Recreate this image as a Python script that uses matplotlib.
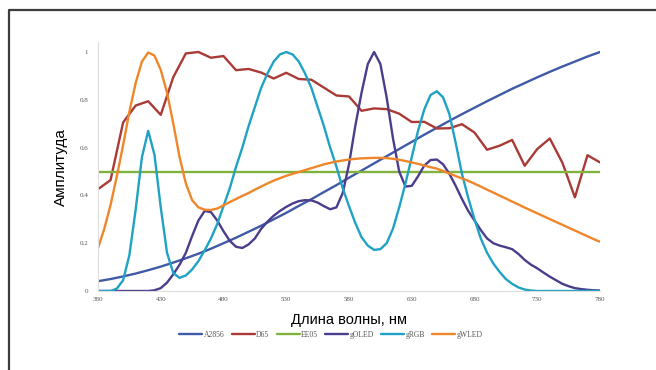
import numpy as np
import matplotlib
matplotlib.use('Agg')
import matplotlib.pyplot as plt
from matplotlib.lines import Line2D

# wavelength grids
wl10 = np.arange(380, 781, 10)
wl5 = np.arange(380, 781, 5)

a2856 = [0.041, 0.050, 0.061, 0.073, 0.087, 0.102, 0.119, 0.137, 0.156, 0.177,
         0.200, 0.223, 0.248, 0.273, 0.300, 0.327, 0.356, 0.384, 0.414, 0.443,
         0.474, 0.504, 0.534, 0.564, 0.594, 0.624, 0.654, 0.683, 0.712, 0.740,
         0.767, 0.794, 0.820, 0.846, 0.870, 0.894, 0.917, 0.939, 0.960, 0.981, 1.0]

d65 = [0.426, 0.464, 0.705, 0.776, 0.794, 0.737, 0.895, 0.994, 1.0, 0.976,
       0.983, 0.924, 0.929, 0.914, 0.889, 0.913, 0.887, 0.884, 0.851, 0.818,
       0.814, 0.754, 0.764, 0.761, 0.742, 0.707, 0.708, 0.680, 0.681, 0.698,
       0.663, 0.591, 0.608, 0.632, 0.524, 0.594, 0.638, 0.537, 0.392, 0.568, 0.538]

ee05 = [0.5] * len(wl10)

goled = [0, 0, 0, 0, 0, 0, 0, 0, 0, 0.003,
         0.012, 0.035, 0.07, 0.11, 0.16, 0.23, 0.295, 0.335, 0.33, 0.295,
         0.25, 0.21, 0.185, 0.18, 0.195, 0.22, 0.26, 0.29, 0.315, 0.335,
         0.352, 0.366, 0.376, 0.38, 0.379, 0.37, 0.355, 0.342, 0.35, 0.41,
         0.53, 0.69, 0.83, 0.95, 1.0, 0.95, 0.81, 0.64, 0.5, 0.437,
         0.44, 0.48, 0.525, 0.548, 0.55, 0.53, 0.49, 0.44, 0.385, 0.335,
         0.295, 0.255, 0.22, 0.2, 0.19, 0.183, 0.175, 0.155, 0.13, 0.11,
         0.095, 0.077, 0.06, 0.045, 0.03, 0.02, 0.012, 0.008, 0.005, 0.003, 0.002]

grgb = [0, 0, 0, 0.01, 0.045, 0.15, 0.34, 0.56, 0.67, 0.57,
        0.35, 0.16, 0.075, 0.055, 0.065, 0.09, 0.125, 0.17, 0.22, 0.28,
        0.355, 0.43, 0.52, 0.60, 0.69, 0.77, 0.85, 0.91, 0.96, 0.99,
        1.0, 0.99, 0.96, 0.91, 0.85, 0.77, 0.69, 0.60, 0.52, 0.43,
        0.355, 0.285, 0.225, 0.19, 0.172, 0.175, 0.2, 0.26, 0.35, 0.45,
        0.56, 0.67, 0.76, 0.82, 0.836, 0.81, 0.74, 0.62, 0.49, 0.39,
        0.30, 0.22, 0.16, 0.115, 0.08, 0.05, 0.03, 0.015, 0.006, 0.002,
        0, 0, 0, 0, 0, 0, 0, 0, 0, 0, 0]

gwled = [0.18, 0.26, 0.36, 0.48, 0.61, 0.75, 0.87, 0.96, 0.998, 0.985,
         0.925, 0.83, 0.70, 0.56, 0.45, 0.38, 0.35, 0.34, 0.339, 0.345,
         0.358, 0.372, 0.385, 0.398, 0.41, 0.424, 0.437, 0.45, 0.462, 0.472,
         0.482, 0.49, 0.498, 0.506, 0.514, 0.522, 0.53, 0.536, 0.542, 0.546,
         0.55, 0.553, 0.555, 0.556, 0.557, 0.557, 0.556, 0.553, 0.549, 0.544,
         0.538, 0.532, 0.525, 0.518, 0.512, 0.502, 0.492, 0.481, 0.471, 0.461,
         0.449, 0.437, 0.424, 0.412, 0.399, 0.387, 0.374, 0.362, 0.349, 0.337,
         0.325, 0.313, 0.301, 0.289, 0.277, 0.265, 0.253, 0.241, 0.229, 0.217, 0.206]

xticks = [380, 430, 480, 530, 580, 630, 680, 730, 780]
yticks = [0, 0.2, 0.4, 0.6, 0.8, 1]
ylabels = ['0', '0.2', '0.4', '0.6', '0.8', '1']

fig = plt.figure(figsize=(6.56, 3.7), dpi=100)
ax = fig.add_axes([98/656, 1 - 291/370, 502/656, 1.04*239/370])

style = dict(lw=1.7, solid_joinstyle='round', solid_capstyle='round')
ax.plot(wl10, a2856, color='#3f5aa6', label='A2856', **style)
ax.plot(wl10, d65, color='#a93a35', label='D65', **style)
ax.plot(wl10, ee05, color='#82b23e', label='EE05', **style)
ax.plot(wl5, goled, color='#4b3d8c', label='gOLED', **style)
ax.plot(wl5, grgb, color='#1fa2c4', label='gRGB', **style)
ax.plot(wl5, gwled, color='#f0862a', label='gWLED', **style)

ax.set_xlim(380, 780)
ax.set_ylim(0, 1.04)
ax.set_xticks(xticks)
ax.set_xticklabels([str(t) for t in xticks])
ax.set_yticks(yticks)
ax.set_yticklabels(ylabels)
ax.tick_params(length=0, labelsize=5, labelcolor='#555555', pad=4)
for lab in ax.get_xticklabels() + ax.get_yticklabels():
    lab.set_family('Liberation Serif')
ax.tick_params(axis='y', pad=7)

for s in ['top', 'right']:
    ax.spines[s].set_visible(False)
for s in ['left', 'bottom']:
    ax.spines[s].set_color('#dddddd')
    ax.spines[s].set_linewidth(0.8)

ax.set_ylabel('Амплитуда', family='Liberation Sans', fontsize=11, labelpad=8)
ax.set_xlabel('Длина волны, нм', family='Liberation Sans', fontsize=10.5, labelpad=8)

leg = fig.legend(loc='center', bbox_to_anchor=(331/656, 1 - 335/370), ncol=6,
                 frameon=False, handlelength=3.0, handletextpad=0.15,
                 columnspacing=1.0, prop={'family': 'Liberation Serif', 'size': 5.5})
for t in leg.get_texts():
    t.set_color('#555555')

# dark frame on left and top
fig.add_artist(Line2D([9/656, 9/656, 1.0], [0.0, 1 - 10/370, 1 - 10/370],
                      transform=fig.transFigure, color='#3c3c3c', lw=1.6))

fig.savefig('out.png', dpi=100)
